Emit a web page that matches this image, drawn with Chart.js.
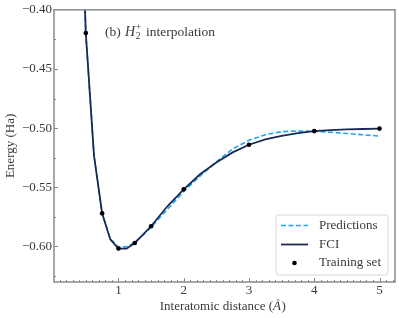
<!DOCTYPE html>
<html>
<head>
<meta charset="utf-8">
<script src="https://cdn.jsdelivr.net/npm/chart.js@4"></script>
<style>
html,body{margin:0;padding:0;background:#fff;}
#wrap{width:399px;height:318px;position:relative;}
</style>
</head>
<body>
<div id="wrap"><canvas id="c" width="399" height="318"></canvas></div>
<script>
// ---- data ----
const gridX = [0.25,0.375,0.5,0.625,0.75,0.875,1.0,1.125,1.25,1.375,1.5,1.75,2.0,2.25,2.5,2.75,3.0,3.25,3.5,3.75,4.0,4.25,4.5,4.75,5.0];
const fciEnergy = [0.05,-0.22,-0.420,-0.523,-0.572,-0.594,-0.6018,-0.6018,-0.597,-0.590,-0.5829,-0.566,-0.5517,-0.539,-0.529,-0.5205,-0.514,-0.5095,-0.5065,-0.5042,-0.5025,-0.5017,-0.5011,-0.5007,-0.5004];
const predEnergy = [0.05,-0.22,-0.420,-0.523,-0.572,-0.5935,-0.6005,-0.6002,-0.5965,-0.5905,-0.5838,-0.5685,-0.5535,-0.5405,-0.5285,-0.5175,-0.5103,-0.5055,-0.5030,-0.5024,-0.5027,-0.5035,-0.5045,-0.5056,-0.5067];
const trainX = [0.5,0.75,1.0,1.25,1.5,2.0,3.0,4.0,5.0];
const trainEnergy = [-0.4196,-0.572,-0.6017,-0.597,-0.5829,-0.5517,-0.514,-0.5025,-0.5004];
const xTicks = [1,2,3,4,5];
const xTickLabels = ['1','2','3','4','5'];
const yTicks = [-0.60,-0.55,-0.50,-0.45,-0.40];
const yTickLabels = ['\u22120.60','\u22120.55','\u22120.50','\u22120.45','\u22120.40'];
const seriesNames = ['Predictions','FCI','Training set'];

const FONT = '"Liberation Serif", "DejaVu Serif", serif';
const C_PRED = '#1ea6f7';
const C_FCI = '#1b2a50';
const C_TXT = '#3a3a3a';
const C_SPINE = '#8a8a8a';

const toXY = (xs, ys) => xs.map((x,i)=>({x:x, y:ys[i]}));

const decor = {
  id:'decor',
  afterDraw(chart){
    const ctx = chart.ctx, a = chart.chartArea;
    const xs = chart.scales.x, ys = chart.scales.y;
    ctx.save();
    // inward ticks
    ctx.strokeStyle = C_SPINE; ctx.lineWidth = 1;
    ctx.beginPath();
    for (let v = 0.1; v < xs.max; v += 0.1) {
      const r = Math.round(v*10)/10;
      const px = Math.round(xs.getPixelForValue(r)) + 0.5;
      const isMajor = Math.abs(r - Math.round(r)) < 1e-6;
      const len = isMajor ? 4 : 2;
      ctx.moveTo(px, a.bottom); ctx.lineTo(px, a.bottom - len);
    }
    for (let k = -0.625; k <= -0.40001; k += 0.025) {
      const r = Math.round(k*1000)/1000;
      const py = Math.round(ys.getPixelForValue(r)) + 0.5;
      const isMajor = Math.abs(r/0.05 - Math.round(r/0.05)) < 1e-6;
      const len = isMajor ? 4 : 2;
      ctx.moveTo(a.left, py); ctx.lineTo(a.left + len, py);
    }
    ctx.stroke();
    // frame
    ctx.lineWidth = 1.5;
    ctx.strokeRect(a.left, a.top, a.right - a.left, a.bottom - a.top);

    // axis titles
    ctx.fillStyle = C_TXT;
    ctx.font = '13px ' + FONT;
    ctx.textAlign = 'center'; ctx.textBaseline = 'middle';
    ctx.save();
    ctx.translate(11, (a.top + a.bottom)/2);
    ctx.rotate(-Math.PI/2);
    ctx.fillText('Energy (Ha)', 0, 0);
    ctx.restore();
    // x title with italic Å
    const p1 = 'Interatomic distance (', p2 = '\u00C5', p3 = ')';
    ctx.font = '13px ' + FONT;
    const w1 = ctx.measureText(p1).width, w3 = ctx.measureText(p3).width;
    ctx.font = 'italic 13px ' + FONT;
    const w2 = ctx.measureText(p2).width;
    let tx = (a.left + a.right)/2 - (w1+w2+w3)/2 - 2;
    const ty = 307;
    ctx.textAlign = 'left';
    ctx.font = '13px ' + FONT; ctx.fillText(p1, tx, ty); tx += w1;
    ctx.font = 'italic 13px ' + FONT; ctx.fillText(p2, tx, ty); tx += w2 + 0.5;
    ctx.font = '13px ' + FONT; ctx.fillText(p3, tx, ty);

    // panel title: (b) H_2^+ interpolation
    let x0 = 105, y0 = 36;
    ctx.textBaseline = 'alphabetic';
    ctx.font = '13.5px ' + FONT; ctx.fillText('(b) ', x0, y0); x0 += ctx.measureText('(b) ').width + 1;
    ctx.font = 'italic 14px ' + FONT; ctx.fillText('H', x0, y0); x0 += ctx.measureText('H').width + 0.5;
    ctx.font = '9.5px ' + FONT;
    ctx.fillText('2', x0, y0 + 3);
    ctx.fillText('+', x0, y0 - 6);
    x0 += ctx.measureText('+').width + 1.5;
    ctx.font = '13.5px ' + FONT; ctx.fillText(' interpolation', x0, y0);

    // legend
    const bx = 276, by = 215, bw = 112, bh = 60, rad = 3;
    ctx.beginPath();
    ctx.moveTo(bx+rad, by); ctx.lineTo(bx+bw-rad, by); ctx.arcTo(bx+bw, by, bx+bw, by+rad, rad);
    ctx.lineTo(bx+bw, by+bh-rad); ctx.arcTo(bx+bw, by+bh, bx+bw-rad, by+bh, rad);
    ctx.lineTo(bx+rad, by+bh); ctx.arcTo(bx, by+bh, bx, by+bh-rad, rad);
    ctx.lineTo(bx, by+rad); ctx.arcTo(bx, by, bx+rad, by, rad);
    ctx.closePath();
    ctx.fillStyle = 'rgba(255,255,255,0.85)'; ctx.fill();
    ctx.strokeStyle = '#d6d6d6'; ctx.lineWidth = 1; ctx.stroke();
    const rows = [225.5, 244.5, 263];
    // predictions handle
    ctx.strokeStyle = C_PRED; ctx.lineWidth = 1.6; ctx.setLineDash([5,2.5]);
    ctx.beginPath(); ctx.moveTo(281, rows[0]); ctx.lineTo(308, rows[0]); ctx.stroke();
    ctx.setLineDash([]);
    ctx.strokeStyle = C_FCI; ctx.lineWidth = 1.8;
    ctx.beginPath(); ctx.moveTo(281, rows[1]); ctx.lineTo(308, rows[1]); ctx.stroke();
    ctx.fillStyle = '#000';
    ctx.beginPath(); ctx.arc(294.5, rows[2], 2.3, 0, Math.PI*2); ctx.fill();
    ctx.fillStyle = C_TXT; ctx.font = '13px ' + FONT; ctx.textBaseline = 'middle'; ctx.textAlign = 'left';
    seriesNames.forEach((n,i)=>ctx.fillText(n, 319, rows[i]));
    ctx.restore();
  }
};

new Chart(document.getElementById('c'), {
  type: 'line',
  data: {
    datasets: [
      { label: seriesNames[0], data: toXY(gridX, predEnergy), borderColor: C_PRED, borderWidth: 1.6,
        borderDash: [5,2.5], pointRadius: 0, tension: 0, fill: false, order: 2 },
      { label: seriesNames[1], data: toXY(gridX, fciEnergy), borderColor: C_FCI, borderWidth: 1.8,
        pointRadius: 0, tension: 0, fill: false, order: 1 },
      { label: seriesNames[2], type: 'scatter', data: toXY(trainX, trainEnergy), showLine: false,
        pointRadius: 2.3, pointBackgroundColor: '#000', pointBorderWidth: 0, borderColor: '#000', order: 0 }
    ]
  },
  options: {
    responsive: false, animation: false, devicePixelRatio: 1,
    layout: { padding: { top: 9, right: 4, left: 0, bottom: 0 } },
    plugins: { legend: { display: false }, tooltip: { enabled: false } },
    scales: {
      x: {
        type: 'linear', min: 0.0125, max: 5.2375,
        grid: { display: false, drawTicks: false },
        border: { display: false },
        afterBuildTicks: s => { s.ticks = xTicks.map(v=>({value:v})); },
        afterFit: s => { s.height = 36; },
        ticks: { color: C_TXT, font: { family: FONT, size: 13 }, padding: 1,
                 maxRotation: 0, autoSkip: false,
                 callback: (v) => { const i = xTicks.indexOf(v); return i >= 0 ? xTickLabels[i] : ''; } }
      },
      y: {
        type: 'linear', min: -0.63, max: -0.40,
        grid: { display: false, drawTicks: false },
        border: { display: false },
        afterBuildTicks: s => { s.ticks = yTicks.map(v=>({value:v})); },
        afterFit: s => { s.width = 54; },
        ticks: { color: C_TXT, font: { family: FONT, size: 13 }, padding: 2, autoSkip: false,
                 callback: (v) => { const i = yTicks.findIndex(t => Math.abs(t - v) < 1e-9); return i >= 0 ? yTickLabels[i] : ''; } }
      }
    }
  },
  plugins: [decor]
});
</script>
</body>
</html>
